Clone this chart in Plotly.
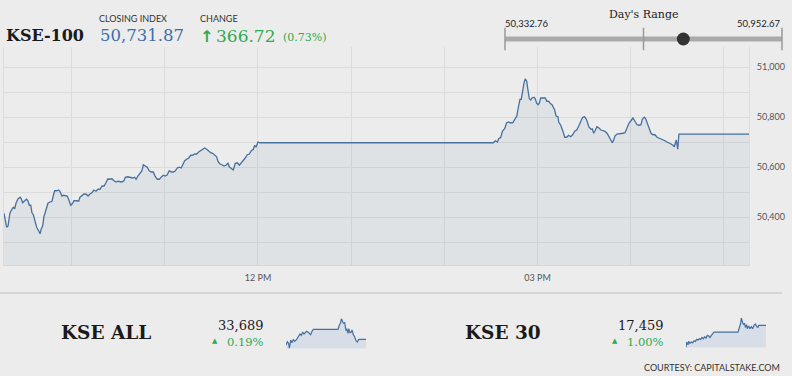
import plotly.graph_objects as go

# ---------------- data ----------------
# KSE-100 intraday: minute of day and index value
kse100_minutes = [
    556.5, 558.2, 559.1, 560.3, 561.6, 562.5, 563.4, 564.2, 565.6, 566.9, 567.6, 568.5, 569.8, 571.1, 571.9,
    572.8, 573.7, 574.5, 575.4, 576.6, 577.5, 578.8, 579.7, 580.5, 581.4, 582.2, 583.5, 584.8, 586.1, 587.4,
    588.2, 589.1, 590.4, 591.7, 592.5, 593.8, 594.7, 595.9, 597.2, 598.1, 599.4, 600.7, 601.5, 603.3, 604.6,
    605.4, 606.7, 608.0, 609.3, 610.6, 611.8, 613.1, 614.4, 615.7, 617.0, 618.3, 619.6, 620.9, 622.1, 623.4,
    624.7, 626.0, 627.3, 628.6, 629.9, 631.2, 632.4, 633.7, 634.6, 636.3,
    638.0, 639.3, 640.6, 641.5, 642.7, 644.0, 645.3, 646.2, 647.4, 648.7, 650.0, 651.3, 652.6, 653.9, 655.2,
    656.5, 657.7, 659.0, 660.3, 661.6, 662.9, 664.2, 665.5, 666.8, 668.0, 669.3, 670.6, 671.9, 672.8, 674.1,
    675.4, 676.7, 678.0, 679.2, 680.5, 681.8, 683.1, 684.4, 685.7, 687.0, 688.3, 689.5, 690.8, 692.1, 693.4,
    694.2, 695.5, 696.8, 698.1, 699.4, 700.7, 701.5, 702.8, 704.1, 705.4, 706.7, 708.0, 709.2, 710.5, 711.8,
    713.1, 714.4, 715.7, 717.0, 717.9, 718.7, 720.0, 721.3,
    871.5, 872.8, 874.1, 875.0, 876.3, 877.5, 878.8, 880.1, 881.4, 882.2, 884.0, 885.3, 886.6, 887.8, 888.7,
    889.5, 890.4, 891.3, 892.1, 893.0, 893.8, 894.7, 895.6, 896.4, 897.7, 898.5, 899.4, 900.3, 901.1, 902.0,
    903.7, 905.0, 905.9, 907.2, 908.0, 909.3, 910.1, 911.0, 911.9, 913.1, 913.6, 914.9, 916.2, 917.5, 918.7,
    920.0, 921.3, 922.6, 923.9, 925.2, 926.5, 927.8, 929.0, 930.3, 931.6,
    933.1, 934.4, 935.2, 936.1, 937.0, 938.2, 939.5, 940.8, 942.1, 943.4, 944.7, 946.0, 947.3, 948.1, 949.0,
    949.8, 951.1, 952.4, 953.7, 955.0, 956.3, 957.6, 958.8, 960.1, 961.4, 962.7, 964.0, 965.3, 966.6, 967.4,
    968.7, 969.6, 970.4, 971.7, 973.0, 974.3, 975.6, 976.9, 978.2, 979.5, 980.7, 982.0, 983.3, 984.6, 985.9,
    987.2, 988.0, 989.3, 990.2, 991.0, 1036.1,
]
kse100_values = [
    50415, 50359, 50364, 50415, 50431, 50439, 50433, 50455, 50473, 50479, 50473, 50457, 50465, 50471, 50465,
    50447, 50447, 50417, 50409, 50372, 50359, 50345, 50332.76, 50353, 50364, 50401, 50428, 50455, 50460, 50463,
    50484, 50505, 50505, 50508, 50503, 50484, 50487, 50487, 50484, 50471, 50447, 50455, 50465, 50465, 50463,
    50479, 50487, 50492, 50492, 50484, 50492, 50497, 50508, 50503, 50511, 50511, 50524, 50524, 50537, 50553,
    50551, 50553, 50545, 50540, 50543, 50543, 50540, 50545, 50559, 50561,
    50559, 50556, 50559, 50551, 50564, 50577, 50585, 50609, 50604, 50599, 50585, 50580, 50580, 50561, 50551,
    50551, 50559, 50567, 50564, 50569, 50585, 50580, 50580, 50585, 50596, 50599, 50596, 50612, 50625, 50631,
    50636, 50647, 50647, 50652, 50652, 50660, 50665, 50673, 50676, 50671, 50665, 50657, 50655, 50649, 50641,
    50623, 50612, 50609, 50604, 50607, 50615, 50601, 50596, 50588, 50615, 50617, 50607, 50615, 50628, 50636,
    50649, 50652, 50665, 50671, 50687, 50679, 50700, 50697,
    50697, 50705, 50700, 50713, 50719, 50745, 50753, 50777, 50780, 50777, 50777, 50793, 50804, 50844, 50871,
    50871, 50908, 50937, 50952.67, 50943, 50908, 50873, 50868, 50876, 50879, 50873, 50855, 50849, 50855, 50876,
    50876, 50876, 50863, 50863, 50855, 50849, 50839, 50828, 50804, 50801, 50780, 50767, 50745, 50719, 50719,
    50727, 50721, 50729, 50743, 50748, 50764, 50783, 50799, 50801, 50788,
    50759, 50751, 50753, 50735, 50745, 50761, 50756, 50748, 50745, 50743, 50735, 50721, 50708, 50697, 50708,
    50724, 50732, 50732, 50732, 50735, 50737, 50756, 50775, 50785, 50796, 50783, 50769, 50767, 50769, 50791,
    50799, 50793, 50777, 50756, 50735, 50729, 50729, 50719, 50716, 50711, 50711, 50705, 50700, 50697, 50692,
    50687, 50681, 50708, 50671, 50731.87, 50731.87,
]

# KSE ALL sparkline
kseall_minutes = [
    556.5, 564.5, 572.5, 576.5, 584.5, 592.5, 600.5, 608.5, 620.5, 632.5, 640.5, 648.5, 656.5, 664.5, 672.5,
    680.5, 688.5, 696.5, 704.5, 712.5, 720.5, 728.5, 868.5, 876.5, 884.5, 888.5, 896.5, 900.5, 908.5, 912.5,
    916.5, 920.5, 928.5, 932.5, 940.5, 948.5, 952.5, 960.5, 968.5, 976.5, 984.5, 992.5, 1036.5,
]
kseall_values = [
    33655, 33675, 33665, 33635, 33685, 33669, 33689, 33677, 33689, 33709, 33721, 33713, 33733, 33721, 33729,
    33737, 33733, 33725, 33717, 33737, 33749, 33749, 33749, 33773, 33789, 33813, 33797, 33785, 33789, 33757,
    33741, 33753, 33725, 33753, 33729, 33733, 33745, 33717, 33705, 33681, 33673, 33689, 33689,
]

# KSE 30 sparkline
kse30_minutes = [
    556.5, 560.5, 568.5, 572.5, 580.5, 588.5, 596.5, 604.5, 612.5, 620.5, 628.5, 636.5, 644.5, 652.5, 660.5,
    668.5, 676.5, 684.5, 692.5, 700.5, 708.5, 716.5, 724.5, 868.5, 876.5, 884.5, 888.5, 896.5, 900.5, 908.5,
    912.5, 920.5, 924.5, 932.5, 940.5, 948.5, 956.5, 964.5, 972.5, 980.5, 988.5, 992.5, 1000.5, 1036.5,
]
kse30_values = [
    17287, 17329, 17308, 17334, 17319, 17329, 17324, 17339, 17334, 17350, 17345, 17355, 17350, 17365, 17355,
    17371, 17360, 17381, 17376, 17365, 17381, 17397, 17407, 17407, 17438, 17475, 17516, 17485, 17464, 17475,
    17443, 17464, 17433, 17454, 17433, 17449, 17433, 17459, 17469, 17449, 17443, 17459, 17459, 17459,
]

# header figures
closing_index = 50731.87
change_points = 366.72
change_pct = 0.73
day_low = 50332.76
day_high = 50952.67
kseall_close, kseall_pct = 33689, 0.19
kse30_close, kse30_pct = 17459, 1.00

# axis ticks
x_tick_minutes = [600, 660, 720, 780, 840, 900, 960, 1020]
x_tick_labels = ["", "", "12 PM", "", "", "03 PM", "", ""]
y_tick_vals = [50300, 50400, 50500, 50600, 50700, 50800, 50900, 51000]
y_tick_labels = ["", "50,400", "", "50,600", "", "50,800", "", "51,000"]

# ---------------- styling ----------------
W, H = 792, 376
BG = "#ececec"
LINE = "#46709e"
GREEN = "#2eaa4f"
BLUE = "#3a70a8"
SERIF = "DejaVu Serif"
SANS = "Lato"


def px(x):
    return x / W


def py(y):
    return 1 - y / H


fig = go.Figure()

# main chart
fig.add_trace(go.Scatter(
    x=kse100_minutes, y=kse100_values, mode="lines",
    line=dict(color=LINE, width=1.3), fill="tozeroy",
    fillcolor="rgba(70,112,158,0.08)", hoverinfo="skip",
    xaxis="x", yaxis="y",
))

# sparklines
fig.add_trace(go.Scatter(
    x=kseall_minutes, y=kseall_values, mode="lines",
    line=dict(color=LINE, width=1.2), fill="tozeroy",
    fillcolor="#d7dee7", xaxis="x2", yaxis="y2", hoverinfo="skip",
))
fig.add_trace(go.Scatter(
    x=kse30_minutes, y=kse30_values, mode="lines",
    line=dict(color=LINE, width=1.2), fill="tozeroy",
    fillcolor="#d7dee7", xaxis="x3", yaxis="y3", hoverinfo="skip",
))

# day's range slider
fig.add_trace(go.Scatter(
    x=[day_low, day_high], y=[0, 0], mode="lines",
    line=dict(color="#aaaaaa", width=5), xaxis="x4", yaxis="y4",
    cliponaxis=False, hoverinfo="skip",
))
fig.add_trace(go.Scatter(
    x=[day_low, (day_low + day_high) / 2, day_high], y=[0, 0, 0], mode="markers",
    marker=dict(symbol="line-ns", size=16, line=dict(color="#9a9a9a", width=1.5)),
    xaxis="x4", yaxis="y4", cliponaxis=False, hoverinfo="skip",
))
fig.add_trace(go.Scatter(
    x=[closing_index], y=[0], mode="markers",
    marker=dict(symbol="circle", size=13, color="#333333"),
    xaxis="x4", yaxis="y4", cliponaxis=False, hoverinfo="skip",
))

grid = "#dcdcdc"
fig.update_layout(
    width=W, height=H, autosize=False,
    margin=dict(l=0, r=0, t=0, b=0),
    paper_bgcolor=BG, plot_bgcolor=BG,
    showlegend=False,
    xaxis=dict(
        domain=[px(4), px(749)], range=[556.5, 1036.1],
        tickvals=x_tick_minutes, ticktext=x_tick_labels,
        showgrid=True, gridcolor=grid, gridwidth=1, zeroline=False,
        showline=True, linecolor="#d6d6d6", linewidth=1,
        ticks="outside", ticklen=4, tickcolor=BG,
        tickfont=dict(family=SANS, size=9, color="#555555"),
        fixedrange=True,
    ),
    yaxis=dict(
        domain=[py(265), py(47)], range=[50208, 51080], side="right",
        tickvals=y_tick_vals, ticktext=y_tick_labels,
        showgrid=True, gridcolor=grid, gridwidth=1, zeroline=False,
        showline=True, mirror=True, linecolor="#dcdcdc", linewidth=1,
        ticks="outside", ticklen=5, tickcolor=BG,
        tickfont=dict(family=SANS, size=9, color="#555555"),
        fixedrange=True,
    ),
    xaxis2=dict(domain=[px(286), px(366)], range=[556.5, 1036.5], anchor="y2", visible=False),
    yaxis2=dict(domain=[py(348.5), py(318.5)], range=[33635, 33813], anchor="x2", visible=False),
    xaxis3=dict(domain=[px(686), px(766)], range=[556.5, 1036.5], anchor="y3", visible=False),
    yaxis3=dict(domain=[py(347.5), py(318)], range=[17287, 17516], anchor="x3", visible=False),
    xaxis4=dict(domain=[px(505), px(782)], range=[day_low, day_high], anchor="y4", visible=False),
    yaxis4=dict(domain=[py(45), py(33)], range=[-1, 1], anchor="x4", visible=False),
)

# separator line above the bottom panel
fig.add_shape(type="line", xref="paper", yref="paper", x0=0, x1=px(782), y0=py(293), y1=py(293),
              line=dict(color="#cfcfcf", width=1.5))


def note(text, x, y, size, color="#222222", family=SERIF, xanchor="left", bold=False):
    if bold:
        text = "<b>" + text + "</b>"
    fig.add_annotation(text=text, x=px(x), y=py(y), xref="paper", yref="paper",
                       xanchor=xanchor, yanchor="middle", showarrow=False,
                       font=dict(family=family, size=size, color=color))


# header
note("KSE-100", 4, 35.5, 16, color="#1a1a1a", bold=True)
note("CLOSING INDEX", 97, 18.5, 9, color="#333333", family=SANS)
note("CHANGE", 198, 18.5, 9, color="#333333", family=SANS)
note(f"{closing_index:,.2f}", 98, 36, 16.5, color=BLUE)
note("<b>↑</b>", 198, 36.5, 16, color=GREEN, family="DejaVu Sans")
note(f"{change_points:,.2f}", 214, 36, 17, color=GREEN)
note(f"({change_pct:.2f}%)", 281, 37.5, 11, color=GREEN)

note("Day's Range", 607, 14, 11, color="#222222")
note(f"{day_low:,.2f}", 503, 23.5, 9.5, color="#222222", family=SANS)
note(f"{day_high:,.2f}", 782, 23.5, 9.5, color="#222222", family=SANS, xanchor="right")

# bottom panel
note("KSE ALL", 59, 332, 18.5, color="#1a1a1a", bold=True)
note(f"{kseall_close:,}", 266, 325, 13, color="#1a1a1a", xanchor="right")
note("▲", 220, 341, 7, color=GREEN, family="DejaVu Sans", xanchor="right")
note(f"{kseall_pct:.2f}%", 266, 341.5, 11.5, color=GREEN, xanchor="right")

note("KSE 30", 463, 332, 18.5, color="#1a1a1a", bold=True)
note(f"{kse30_close:,}", 666, 325, 13, color="#1a1a1a", xanchor="right")
note("▲", 620, 341, 7, color=GREEN, family="DejaVu Sans", xanchor="right")
note(f"{kse30_pct:.2f}%", 666, 341.5, 11.5, color=GREEN, xanchor="right")

note("COURTESY: CAPITALSTAKE.COM", 782, 367, 9, color="#333333", family=SANS, xanchor="right")

fig.write_html(
    "out.html",
    config={"displayModeBar": False, "staticPlot": True},
    post_script="document.body.style.margin='0';document.body.style.padding='0';"
                "document.body.style.overflow='hidden';",
)
